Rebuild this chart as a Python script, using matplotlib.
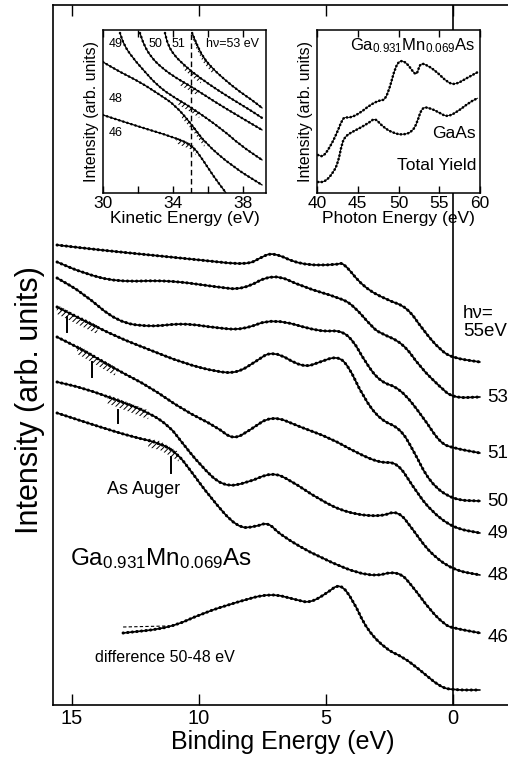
import numpy as np
import matplotlib
matplotlib.use('Agg')
import matplotlib.pyplot as plt
from matplotlib.path import Path
from matplotlib.patches import PathPatch

plt.rcParams['font.family'] = ['Liberation Sans', 'DejaVu Sans']
plt.rcParams['mathtext.fontset'] = 'custom'
plt.rcParams['mathtext.rm'] = 'Liberation Sans'
plt.rcParams['mathtext.it'] = 'Liberation Sans:italic'
plt.rcParams['hatch.linewidth'] = 0.7

# ---------------- main panel: binding energy (eV) vs intensity (arb.) ----------------
be_55 = [15.59, 13.90, 11.93, 9.96, 8.11, 7.60, 7.09, 6.02, 4.57, 4.33, 3.54, 2.60, 1.81, 1.18, 0.51, 0.00, -1.06]
in_55 = [46.0, 45.5, 45.0, 44.5, 44.0, 44.7, 45.3, 44.0, 44.0, 44.3, 41.8, 40.5, 39.8, 37.5, 35.5, 34.7, 34.3]

be_53 = [15.59, 14.57, 13.23, 11.26, 9.29, 8.27, 7.09, 5.91, 4.45, 3.94, 3.15, 2.87, 1.97, 1.30, 0.51, 0.00, -1.06]
in_53 = [44.3, 43.2, 42.3, 42.5, 41.8, 41.5, 43.2, 41.8, 40.7, 40.0, 37.7, 37.2, 36.2, 33.8, 31.8, 30.7, 30.8]

be_51 = [15.59, 14.57, 13.23, 11.93, 10.63, 9.29, 8.27, 7.09, 5.24, 4.45, 3.94, 3.46, 2.87, 2.09, 1.18, 0.51, 0.00, -1.06]
in_51 = [42.7, 41.2, 38.3, 37.8, 38.2, 37.7, 37.5, 38.7, 37.3, 37.5, 36.5, 34.3, 32.3, 31.7, 28.8, 26.2, 25.7, 25.2]

be_50 = [15.59, 14.57, 13.23, 11.93, 10.63, 9.29, 8.50, 7.80, 7.09, 5.91, 5.24, 4.57, 4.13, 3.54, 2.87, 2.09, 1.57, 0.91, 0.00, -1.06]
in_50 = [39.8, 38.5, 36.8, 35.5, 34.2, 33.3, 33.2, 34.3, 35.5, 33.7, 34.3, 34.9, 34.0, 30.8, 28.5, 27.7, 25.5, 22.2, 20.5, 20.4]

be_49 = [15.59, 14.57, 13.23, 11.93, 10.63, 9.29, 8.66, 7.99, 7.13, 6.02, 4.84, 3.78, 2.87, 2.20, 1.57, 0.91, 0.00, -1.06]
in_49 = [36.8, 35.5, 33.5, 31.8, 29.5, 27.8, 26.5, 27.5, 29.0, 27.8, 26.7, 25.2, 24.2, 24.3, 21.8, 19.5, 17.7, 17.2]

be_48 = [15.59, 14.57, 13.23, 11.93, 11.14, 10.75, 9.96, 9.06, 8.11, 7.13, 6.42, 5.24, 4.17, 2.87, 2.17, 1.57, 0.91, 0.00, -1.06]
in_48 = [32.3, 31.7, 30.5, 29.2, 27.8, 26.5, 24.0, 21.8, 22.2, 23.3, 22.5, 20.5, 19.2, 18.8, 19.5, 17.5, 15.2, 13.5, 13.0]

be_46 = [15.59, 13.90, 12.60, 11.54, 10.87, 10.35, 9.57, 8.50, 7.80, 7.28, 6.81, 5.24, 3.27, 2.17, 1.57, 0.91, 0.31, 0.00, -1.06]
in_46 = [29.2, 27.8, 26.8, 26.2, 25.2, 23.5, 20.8, 17.7, 17.8, 18.3, 17.0, 14.7, 12.7, 13.5, 11.8, 9.5, 8.0, 7.7, 7.2]

be_diff = [12.99, 11.14, 9.84, 8.50, 7.20, 6.14, 5.63, 4.96, 4.45, 3.94, 3.39, 2.60, 1.97, 1.30, 0.51, 0.00, -1.06]
in_diff = [7.2, 7.7, 9.2, 10.3, 11.2, 10.5, 10.2, 11.2, 12.2, 10.5, 7.5, 5.5, 4.8, 3.5, 1.8, 1.5, 1.5]
be_diff_dash = [12.99, 11.26]
in_diff_dash = [7.8, 7.9]

spectra = [(be_55, in_55), (be_53, in_53), (be_51, in_51), (be_50, in_50),
           (be_49, in_49), (be_48, in_48), (be_46, in_46)]
hv_labels = ['53', '51', '50', '49', '48', '46']
hv_label_y = [30.7, 25.2, 20.4, 17.2, 13.0, 6.8]

# As Auger markers (binding energy, bottom, top) and hatched ranges
auger_be = [15.20, 14.21, 13.19, 11.10]
auger_lo = [37.3, 32.8, 28.2, 23.2]
auger_hi = [38.8, 34.3, 29.5, 24.8]
auger_curves = [(be_50, in_50), (be_49, in_49), (be_48, in_48), (be_46, in_46)]
auger_hatch_range = [(15.6, 14.0), (14.8, 13.3), (13.6, 12.0), (12.0, 10.8)]

# ---------------- left inset: kinetic energy spectra ----------------
ke_53 = [35.09, 35.37, 35.71, 36.23, 36.97, 37.83, 38.51, 39.09]
ki_53 = [160, 148, 136, 125, 113, 101, 93, 85]
ke_51 = [33.54, 33.71, 34.06, 34.51, 35.09, 36.11, 37.26, 38.40, 39.09]
ki_51 = [160, 148, 138, 130, 121, 108, 95, 83, 75]
ke_50 = [32.11, 32.34, 32.74, 33.37, 34.17, 35.09, 36.40, 37.83, 39.09]
ki_50 = [160, 148, 136, 125, 115, 106, 91, 76, 63]
ke_49 = [30.97, 31.20, 31.66, 32.40, 33.09, 33.83, 35.09, 36.86, 37.83, 39.09]
ki_49 = [160, 148, 136, 121, 108, 98, 85, 63, 48, 33]
ke_48 = [30.00, 30.97, 32.11, 33.26, 34.11, 35.09, 35.83, 37.43, 39.09]
ki_48 = [131, 121, 111, 98, 88, 68, 50, 26, 8]
ke_46 = [30.00, 32.11, 34.00, 35.09, 35.71, 36.34, 37.03]
ki_46 = [78, 66, 56, 48, 33, 16, 0]
ke_curves = [(ke_53, ki_53), (ke_51, ki_51), (ke_50, ki_50), (ke_49, ki_49), (ke_48, ki_48), (ke_46, ki_46)]
ke_hatch_range = [(35.1, 36.3), (34.6, 35.6), (34.4, 35.4), (34.3, 35.5), (34.5, 35.8), (34.2, 35.3)]
ke_dash = 35.0

# ---------------- right inset: total yield ----------------
pe_mn = [40.12, 40.74, 41.60, 42.45, 43.07, 43.44, 44.05, 45.28, 46.50, 47.73, 48.34, 48.96, 49.57, 50.18,
         51.04, 51.78, 52.27, 52.64, 53.50, 54.72, 55.95, 56.93, 58.40, 59.75]
ty_mn = [38, 36, 46, 60, 73, 76, 75, 80, 88, 93, 93, 106, 125, 133, 130, 121, 118, 130, 128, 121, 111, 108, 115, 121]
pe_gaas = [40.12, 40.98, 41.96, 42.58, 43.07, 43.44, 44.05, 45.28, 46.50, 47.12, 48.10, 49.33, 50.55, 51.66,
           52.27, 52.88, 53.87, 55.09, 55.95, 57.18, 58.77, 59.75]
ty_gaas = [11, 11, 20, 30, 50, 56, 60, 65, 71, 75, 66, 60, 58, 61, 70, 86, 85, 80, 76, 81, 91, 95]


def smooth_path(x, y):
    pts = np.column_stack([x, y]).astype(float)
    verts = [pts[0], (pts[0] + pts[1]) / 2]
    codes = [Path.MOVETO, Path.LINETO]
    for i in range(1, len(pts) - 1):
        verts += [pts[i], (pts[i] + pts[i + 1]) / 2]
        codes += [Path.CURVE3, Path.CURVE3]
    verts.append(pts[-1])
    codes.append(Path.LINETO)
    return Path(verts, codes)


def dotted(ax, x, y, base=1.2, dot=2.2, gap=1.4):
    p = smooth_path(x, y)
    ax.add_patch(PathPatch(p, fill=False, edgecolor='k', lw=base, capstyle='round', joinstyle='round'))
    ax.add_patch(PathPatch(p, fill=False, edgecolor='k', lw=dot, linestyle=(0, (0.1, gap)),
                           capstyle='round', joinstyle='round'))


def hatch_band(ax, x, y, lo, hi, below, above):
    xs = np.array(x, dtype=float)
    ys = np.array(y, dtype=float)
    order = np.argsort(xs)
    xs, ys = xs[order], ys[order]
    a, b = min(lo, hi), max(lo, hi)
    inner = (xs > a) & (xs < b)
    bx = np.concatenate([[a], xs[inner], [b]])
    by = np.concatenate([[np.interp(a, xs, ys)], ys[inner], [np.interp(b, xs, ys)]])
    ax.fill_between(bx, by - below, by + above, facecolor='none', edgecolor='k',
                    hatch='//////', linewidth=0)


fig = plt.figure(figsize=(5.08, 7.66), dpi=100)
ax = fig.add_axes([53 / 508, 61 / 766, 460 / 508, 700 / 766])
ax.set_xlim(15.75, -2.36)
ax.set_ylim(0, 70)

for be, it in spectra:
    dotted(ax, be, it)
dotted(ax, be_diff, in_diff)
ax.plot(be_diff_dash, in_diff_dash, color='k', lw=0.8, ls=(0, (3, 2)))

for (be, it), (lo, hi) in zip(auger_curves, auger_hatch_range):
    hatch_band(ax, be, it, lo, hi, 0.7, 0.2)
for xb, lo, hi in zip(auger_be, auger_lo, auger_hi):
    ax.plot([xb, xb], [lo, hi], color='k', lw=1.4)

ax.axvline(0, color='k', lw=1.2)

ax.set_xticks([15, 10, 5, 0])
ax.set_yticks([])
ax.tick_params(axis='x', direction='in', top=True, length=8, width=1.0, labelsize=14.5, pad=3)
for side in ['left', 'bottom', 'top']:
    ax.spines[side].set_linewidth(1.2)
ax.spines['right'].set_visible(False)
ax.set_xlabel('Binding Energy (eV)', fontsize=18, labelpad=1)
ax.set_ylabel('Intensity (arb. units)', fontsize=22)
ax.yaxis.set_label_coords(-0.017, 0.436)

ax.text(-0.39, 40.0, 'hν=\n55eV', ha='left', va='top', fontsize=13.5, linespacing=1.05)
for lab, yy in zip(hv_labels, hv_label_y):
    ax.text(-1.35, yy, lab, ha='left', va='center', fontsize=13.5)
ax.text(12.17, 21.6, 'As Auger', ha='center', va='center', fontsize=13)
ax.text(15.08, 14.0, r'Ga$_{0.931}$Mn$_{0.069}$As', ha='left', va='baseline', fontsize=17.5)
ax.text(14.09, 4.3, 'difference 50-48 eV', ha='left', va='baseline', fontsize=11.5)

# left inset
ax1 = fig.add_axes([103 / 508, 573 / 766, 163 / 508, 163 / 766])
ax1.set_xlim(30, 39.31)
ax1.set_ylim(0, 163)
for (ke, ki), (lo, hi) in zip(ke_curves, ke_hatch_range):
    hatch_band(ax1, ke, ki, lo, hi, 5, 1)
    dotted(ax1, ke, ki, base=0.9, dot=1.8, gap=1.6)
ax1.axvline(ke_dash, color='k', lw=1.0, ls=(0, (4, 2.5)))
ax1.set_xticks([30, 32, 34, 36, 38])
ax1.set_xticklabels(['30', '', '34', '', '38'])
ax1.set_yticks([])
ax1.tick_params(axis='x', direction='in', top=True, length=5, width=1.0, labelsize=12.5, pad=2)
for s in ax1.spines.values():
    s.set_linewidth(1.1)
ax1.set_xlabel('Kinetic Energy (eV)', fontsize=12.5, labelpad=0)
ax1.set_ylabel('Intensity (arb. units)', fontsize=11.5, labelpad=3)
ax1.text(30.3, 149, '49', fontsize=9, ha='left', va='center')
ax1.text(32.6, 149, '50', fontsize=9, ha='left', va='center')
ax1.text(33.9, 149, '51', fontsize=9, ha='left', va='center')
ax1.text(35.9, 149, 'hν=53 eV', fontsize=9, ha='left', va='center')
ax1.text(30.3, 94, '48', fontsize=9, ha='left', va='center')
ax1.text(30.3, 60, '46', fontsize=9, ha='left', va='center')

# right inset
ax2 = fig.add_axes([317 / 508, 573 / 766, 163 / 508, 163 / 766])
ax2.set_xlim(40, 60)
ax2.set_ylim(0, 163)
for xs, ys in [(pe_mn, ty_mn), (pe_gaas, ty_gaas)]:
    p = smooth_path(xs, ys)
    ax2.add_patch(PathPatch(p, fill=False, edgecolor='k', lw=0.6))
    ax2.add_patch(PathPatch(p, fill=False, edgecolor='k', lw=1.9, linestyle=(0, (0.1, 1.3)),
                            capstyle='round'))
ax2.set_xticks([40, 45, 50, 55, 60])
ax2.set_yticks([])
ax2.tick_params(axis='x', direction='in', top=True, length=5, width=1.0, labelsize=12.5, pad=2)
for s in ax2.spines.values():
    s.set_linewidth(1.1)
ax2.set_xlabel('Photon Energy (eV)', fontsize=12.5, labelpad=0)
ax2.set_ylabel('Intensity (arb. units)', fontsize=11.5, labelpad=3)
ax2.text(59.5, 147, r'Ga$_{0.931}$Mn$_{0.069}$As', ha='right', va='center', fontsize=12)
ax2.text(59.5, 59, 'GaAs', ha='right', va='center', fontsize=12.5)
ax2.text(59.5, 28, 'Total Yield', ha='right', va='center', fontsize=12.5)

fig.savefig('out.png', dpi=100)
